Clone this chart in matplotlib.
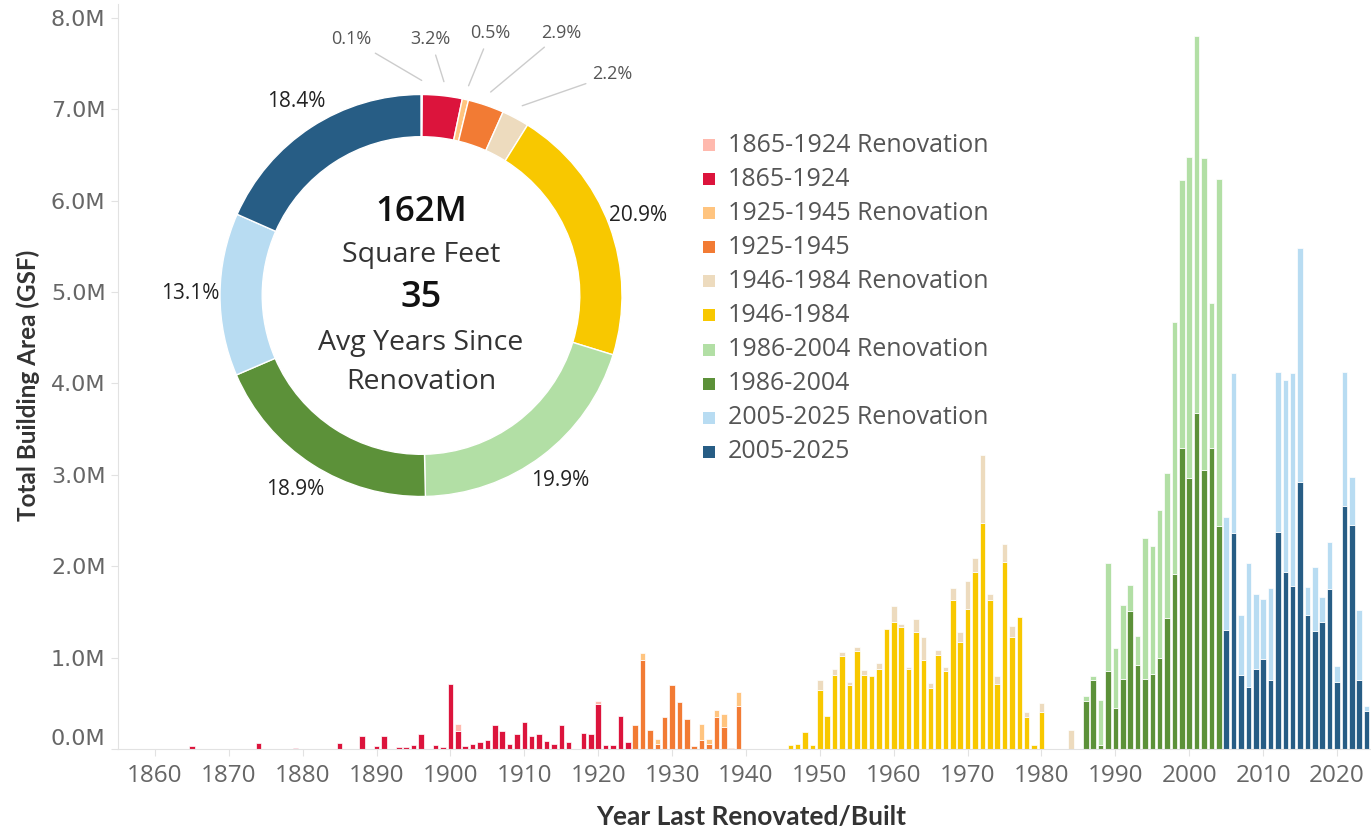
import numpy as np
import matplotlib.pyplot as plt
from matplotlib.patches import Rectangle

# building area per year, millions of GSF (built = base bar, reno = renovation cap on top)
years_1865 = [1865, 1874, 1879, 1885, 1888, 1890, 1891, 1893, 1894, 1895, 1896, 1898, 1899,
              1900, 1901, 1902, 1903, 1904, 1905, 1906, 1907, 1908, 1909, 1910, 1911, 1912,
              1913, 1914, 1915, 1916, 1918, 1919, 1920, 1921, 1922, 1923, 1924]
built_1865 = [0.03, 0.063, 0.013, 0.063, 0.137, 0.035, 0.137, 0.027, 0.027, 0.049, 0.166, 0.049, 0.027,
              0.715, 0.20, 0.03, 0.05, 0.075, 0.10, 0.26, 0.20, 0.05, 0.16, 0.29, 0.14, 0.16,
              0.09, 0.057, 0.26, 0.075, 0.177, 0.16, 0.49, 0.045, 0.045, 0.366, 0.075]
reno_years_1865 = [1901, 1920]
reno_1865 = [0.07, 0.03]

years_1925 = list(range(1925, 1940))
built_1925 = [0.26, 0.976, 0.213, 0.05, 0.35, 0.70, 0.51, 0.33, 0.03, 0.10, 0.057, 0.35, 0.24, 0.01, 0.47]
reno_years_1925 = [1926, 1928, 1934, 1935, 1936, 1937, 1939]
reno_1925 = [0.074, 0.057, 0.175, 0.05, 0.08, 0.14, 0.15]

years_1946 = list(range(1946, 1981))
built_1946 = [0.04, 0.055, 0.19, 0.04, 0.645, 0.36, 0.81, 1.02, 0.70, 1.07, 0.81, 0.795, 0.875, 1.31,
              1.39, 1.34, 0.875, 1.28, 0.97, 0.67, 1.03, 0.85, 1.63, 1.17, 1.53, 1.94, 2.47, 1.63,
              0.71, 2.05, 1.22, 1.44, 0.35, 0.04, 0.40]
reno_years_1946 = [1950, 1952, 1953, 1954, 1955, 1956, 1958, 1960, 1961, 1962, 1963, 1964, 1965, 1966,
                   1967, 1968, 1969, 1970, 1971, 1972, 1973, 1974, 1975, 1976, 1978, 1980, 1984]
reno_1946 = [0.115, 0.065, 0.04, 0.03, 0.05, 0.055, 0.065, 0.17, 0.03, 0.025, 0.14, 0.25, 0.05, 0.05,
             0.05, 0.13, 0.11, 0.31, 0.15, 0.75, 0.07, 0.09, 0.19, 0.13, 0.05, 0.10, 0.21]

years_1986 = list(range(1986, 2005))
built_1986 = [0.53, 0.75, 0.04, 0.85, 0.45, 0.77, 1.51, 0.92, 0.77, 0.82, 1.00, 1.43, 1.915, 3.29,
              2.97, 3.68, 3.05, 3.29, 2.44]
reno_1986 = [0.05, 0.05, 0.50, 1.18, 0.655, 0.80, 0.28, 0.32, 1.54, 1.40, 1.62, 1.59, 2.76, 2.93,
             3.51, 4.12, 3.42, 1.59, 3.80]

years_2005 = list(range(2005, 2025))
built_2005 = [1.30, 2.36, 0.81, 0.68, 0.875, 0.98, 0.75, 2.37, 1.94, 1.78, 2.92, 1.47, 1.29, 1.39,
              1.75, 0.73, 2.66, 2.45, 0.76, 0.42]
reno_2005 = [1.235, 1.75, 0.66, 1.35, 0.825, 0.665, 1.01, 1.75, 2.10, 2.33, 2.565, 0.30, 0.70, 0.27,
             0.51, 0.18, 1.46, 0.53, 0.76, 0.05]

legend_labels = ['1865-1924 Renovation', '1865-1924', '1925-1945 Renovation', '1925-1945',
                 '1946-1984 Renovation', '1946-1984', '1986-2004 Renovation', '1986-2004',
                 '2005-2025 Renovation', '2005-2025']
colors = ['#FFB9AE', '#DC143C', '#FFC47F', '#F27B34', '#EDDBBE', '#F8C800',
          '#B2DFA5', '#5C9139', '#B8DCF2', '#275D85']
share_pct = [0.1, 3.2, 0.5, 2.9, 2.2, 20.9, 19.9, 18.9, 13.1, 18.4]
total_text = '162M'
avg_years_text = '35'

W, H = 1371, 830
def fx(x):
    return x / W
def fy(y):
    return 1 - y / H

fig = plt.figure(figsize=(W / 100, H / 100), dpi=100)
ax = fig.add_axes([fx(118), fy(749), (W - 118) / W, 745 / H])

def draw_group(years, built, reno_years, reno, c_built, c_reno):
    ax.bar(years, np.array(built) * 1e6, width=0.75, color=c_built, edgecolor='white', linewidth=0.5)
    base = dict(zip(years, built))
    bottoms = [base.get(y, 0) * 1e6 for y in reno_years]
    ax.bar(reno_years, np.array(reno) * 1e6, bottom=bottoms, width=0.75, color=c_reno,
           edgecolor='white', linewidth=0.5)

draw_group(years_1865, built_1865, reno_years_1865, reno_1865, colors[1], colors[0])
draw_group(years_1925, built_1925, reno_years_1925, reno_1925, colors[3], colors[2])
draw_group(years_1946, built_1946, reno_years_1946, reno_1946, colors[5], colors[4])
draw_group(years_1986, built_1986, years_1986, reno_1986, colors[7], colors[6])
draw_group(years_2005, built_2005, years_2005, reno_2005, colors[9], colors[8])

ax.set_xlim(1855, 2024.6)
ax.set_ylim(0, 8.15e6)
ax.set_yticks(np.arange(0, 8.5e6, 1e6))
ax.set_yticklabels([f'{v / 1e6:.1f}M' for v in np.arange(0, 8.5e6, 1e6)])
ax.set_xticks(range(1860, 2021, 10))
for s in ['top', 'right']:
    ax.spines[s].set_visible(False)
for s in ['left', 'bottom']:
    ax.spines[s].set_color('#e2e2e2')
ax.tick_params(axis='y', length=5, color='#e2e2e2', pad=4, labelsize=16, labelcolor='#666666')
ax.tick_params(axis='x', length=5, color='#e2e2e2', pad=6, labelsize=17.5, labelcolor='#666666')
for t in ax.get_xticklabels():
    t.set_family('Open Sans')
ax.get_yticklabels()[0].set_va('bottom')

fig.text(fx(28), fy(385), 'Total Building Area (GSF)', rotation=90, ha='center', va='center',
         fontsize=17.5, fontweight='bold', color='#333333', family='Lato')
fig.text(fx(751), fy(817), 'Year Last Renovated/Built', ha='center', va='center',
         fontsize=19, fontweight='bold', color='#333333', family='Lato')

# legend
for i, (lab, col) in enumerate(zip(legend_labels, colors)):
    yc = 145 + i * 34.1
    fig.patches.append(Rectangle((fx(703), fy(yc + 6)), 12 / W, 12 / H, transform=fig.transFigure,
                                 facecolor=col, edgecolor='none'))
    fig.text(fx(728), fy(yc), lab, ha='left', va='center', fontsize=18, color='#555555', family='Open Sans')

# donut
R = 201
cx, cy = 421, 295.5
half = 250
dax = fig.add_axes([fx(cx - half), fy(cy + half), 2 * half / W, 2 * half / H])
wedges, _ = dax.pie(share_pct, colors=colors, startangle=90, counterclock=False, radius=1,
                    wedgeprops=dict(width=0.21, edgecolor='white', linewidth=1))
lim = half / R
dax.set_xlim(-lim, lim)
dax.set_ylim(-lim, lim)
dax.set_axis_off()

cum = np.cumsum([0] + share_pct[:-1])
mid_deg = (cum + np.array(share_pct) / 2) / 100 * 360
small_pos = {0: (351.7, 39.3), 1: (430.7, 39.3), 2: (490, 33.3), 3: (561.7, 32.7), 4: (612.7, 74.3)}
for i, p in enumerate(share_pct):
    a = np.deg2rad(mid_deg[i])
    if i in small_pos:
        px, py = small_pos[i]
        dax.annotate(f'{p:.1f}%', xy=(1.07 * np.sin(a), 1.07 * np.cos(a)),
                     xytext=((px - cx) / R, (cy - py) / R), ha='center', va='center',
                     fontsize=13, color='#555555', family='Open Sans', annotation_clip=False,
                     arrowprops=dict(arrowstyle='-', color='#cccccc', lw=1, shrinkA=3, shrinkB=0))
    else:
        dax.text(1.15 * np.sin(a), 1.15 * np.cos(a), f'{p:.1f}%', ha='center', va='center',
                 fontsize=15, color='#222222', family='Open Sans')

dax.text(0, (cy - 212) / R, total_text, ha='center', va='center', fontsize=25, color='#111111',
         family='Open Sans', fontweight='semibold')
dax.text(0, (cy - 255) / R, 'Square Feet', ha='center', va='center', fontsize=20.5, color='#333333',
         family='Open Sans')
dax.text(0, (cy - 298) / R, avg_years_text, ha='center', va='center', fontsize=26, color='#111111',
         family='Open Sans', fontweight='semibold')
dax.text(0, (cy - 343) / R, 'Avg Years Since', ha='center', va='center', fontsize=20.5, color='#333333',
         family='Open Sans')
dax.text(0, (cy - 382) / R, 'Renovation', ha='center', va='center', fontsize=20.5, color='#333333',
         family='Open Sans')

fig.savefig('out.png', dpi=100, facecolor='white')
